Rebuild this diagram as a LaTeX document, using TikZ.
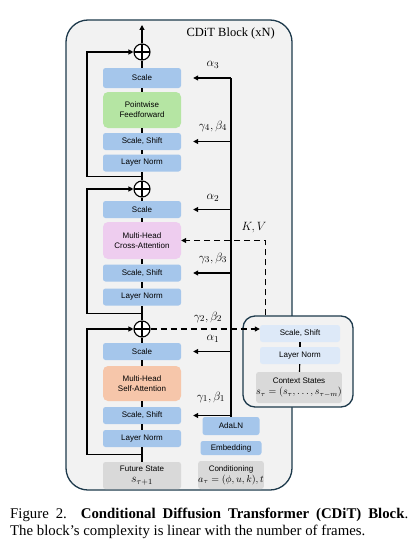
\documentclass[tikz,border=0pt]{standalone}
\usepackage{amsmath,amssymb}
\usepackage{fontspec}
\setmainfont{Liberation Serif}
\setsansfont{Liberation Sans}
\usepackage{tikz}
\usetikzlibrary{arrows.meta,calc}
\usepackage{xcolor}
\definecolor{frameC}{HTML}{1E3A4C}
\definecolor{panelC}{HTML}{F2F2F2}
\definecolor{blueC}{HTML}{A5C6EB}
\definecolor{lblueC}{HTML}{DDE9F8}
\definecolor{greenC}{HTML}{B5E5A3}
\definecolor{pinkC}{HTML}{EECDEF}
\definecolor{orangeC}{HTML}{F6C6AA}
\definecolor{grayC}{HTML}{D9D9D9}

\begin{document}
\begin{tikzpicture}
        [   x = 1pt
        ,   y = -1pt
        ,   >= {Triangle[length=5pt,width=5pt]}
        ,   line/.style = {line width = 1.1pt}
        ,   box/.style =
            {   rounded corners = 2.5pt
            ,   minimum width = 78pt
            ,   minimum height = 17pt
            ,   inner sep = 0pt
            ,   align = center
            ,   font = \sffamily\fontsize{8}{10}\selectfont
            }
        ,   bluebox/.style = {box, fill = blueC}
        ,   lbluebox/.style = {box, fill = lblueC, minimum width = 80pt}
        ,   greenbox/.style = {box, fill = greenC, rounded corners = 5pt}
        ,   pinkbox/.style = {box, fill = pinkC, rounded corners = 5pt}
        ,   orangebox/.style = {box, fill = orangeC, rounded corners = 5pt}
        ,   graybox/.style = {box, fill = grayC, font = \sffamily\fontsize{8}{11}\selectfont}
        ,   plus/.style =
            {   circle, draw, line width = 1.1pt, fill = white
            ,   minimum size = 16pt, inner sep = 0pt
            ,   path picture =
                {   \draw[line width = 1.1pt]
                        (path picture bounding box.north) -- (path picture bounding box.south)
                        (path picture bounding box.west) -- (path picture bounding box.east);
                }
            }
        ,   lab/.style = {font = \fontsize{12.5}{14}\selectfont}
        ]
        \useasboundingbox[fill = white] (0,0) rectangle (412,551);

        % the block
        \node[draw = frameC, line width = 1.3pt, fill = panelC, rounded corners = 22pt
             , minimum width = 226pt, minimum height = 470pt] (blk) at (179,255) {};
        \node[anchor = east, inner sep = 0pt, font = \fontsize{12.5}{14}\selectfont] (title) at (275,33)
            {CDiT Block (xN)};

        % main column
        \node[plus] (p1) at (142,52) {};
        \node[bluebox, minimum height = 20pt] (sc1) at (142,78) {Scale};
        \node[greenbox, minimum height = 36pt] (ff) at (142,110) {Pointwise\\Feedforward};
        \node[bluebox] (ss1) at (142,141.5) {Scale, Shift};
        \node[bluebox] (ln1) at (142,163) {Layer Norm};
        \node[plus] (p2) at (142,189) {};
        \node[bluebox] (sc2) at (142,209.5) {Scale};
        \node[pinkbox, minimum height = 37pt] (ca) at (142,240.5) {Multi-Head\\Cross-Attention};
        \node[bluebox] (ss2) at (142,273) {Scale, Shift};
        \node[bluebox] (ln2) at (142,297) {Layer Norm};
        \node[plus] (p3) at (142,329) {};
        \node[bluebox] (sc3) at (142,351.5) {Scale};
        \node[orangebox, minimum height = 35pt] (sa) at (142,383.5) {Multi-Head\\Self-Attention};
        \node[bluebox] (ss3) at (142,415.5) {Scale, Shift};
        \node[bluebox] (ln3) at (142,438.5) {Layer Norm};
        \node[graybox, minimum height = 27pt] (fs) at (142,475.5) {Future State\\\large$s_{\tau+1}$};
        \coordinate (out) at (142,25);

        % conditioning column
        \node[bluebox, minimum width = 57pt, minimum height = 18pt] (ada) at (231,426) {AdaLN};
        \node[bluebox, minimum width = 61pt, minimum height = 14pt] (emb) at (231,448) {Embedding};
        \node[graybox, minimum width = 64pt, minimum height = 28pt] (cond) at (231,475)
            {Conditioning\\\normalsize$a_\tau=(\phi,u,k),t$};

        % context
        \node[draw = frameC, line width = 1.3pt, fill = panelC, rounded corners = 12pt
             , minimum width = 110pt, minimum height = 91pt] (ctx) at (298,361.5) {};
        \node[lbluebox] (css) at (300,333.5) {Scale, Shift};
        \node[lbluebox] (cln) at (300,355.5) {Layer Norm};
        \node[graybox, minimum width = 80pt, minimum height = 31pt] (cst) at (299,387.5)
            {Context States\\\normalsize$s_\tau=(s_\tau,\ldots,s_{\tau-m})$};

        % main flow
        \foreach \a/\b in {fs/ln3, ln3/ss3, ss3/sa, sa/sc3, sc3/p3, p3/ln2, ln2/ss2, ss2/ca, ca/sc2,
                           sc2/p2, p2/ln1, ln1/ss1, ss1/ff, ff/sc1, sc1/p1, css/cln, cln/cst}
            \draw[line] (\a) -- (\b);
        \draw[line,->] (p1) -- (out);

        % residuals
        \draw[line,->] ($(ln1.south)!.5!(p2.north)$) -- ++(-55,0) |- (p1);
        \draw[line,->] ($(ln2.south)!.5!(p3.north)$) -- ++(-55,0) |- (p2);
        \draw[line,->] ($(ln3.south)!.5!(fs.north)$) -- ++(-55,0) |- (p3);

        % modulation
        \draw[line] (ada.north) -- (ada.north |- sc1.east);
        \foreach \b in {sc1, ss1, sc2, ss2, sc3, ss3}
            \draw[line,->] (ada.north |- \b.east) -- ([xshift = 12pt]\b.east);
        \node[lab] (a3) at (213,65) {$\alpha_3$};
        \node[lab] (g4) at (213,126) {$\gamma_4,\beta_4$};
        \node[lab] (a2) at (213,198) {$\alpha_2$};
        \node[lab] (g3) at (213,258) {$\gamma_3,\beta_3$};
        \node[lab] (g2) at (208,317) {$\gamma_2,\beta_2$};
        \node[lab] (a1) at (213,339) {$\alpha_1$};
        \node[lab] (g1) at (211,397) {$\gamma_1,\beta_1$};
        \node[lab] (kv) at (254,228) {$K,V$};

        % context links
        \draw[line,dashed,dash pattern = on 6pt off 4pt,->] ($(ctx.north west)+(23,0)$) |- (ca.east);
        \draw[line,dashed,dash pattern = on 6pt off 4pt,->] (p3) -- (p3 -| css.west);

        % caption
        \node[anchor = north west, inner sep = 0pt, text width = 398pt, align = justify
             , font = \fontsize{14.8}{17}\selectfont] (cap) at (10,508)
            {Figure 2.\ \ \textbf{Conditional Diffusion Transformer (CDiT) Block}.\linebreak
             The block’s complexity is linear with the number of frames.};
\end{tikzpicture}
\end{document}
